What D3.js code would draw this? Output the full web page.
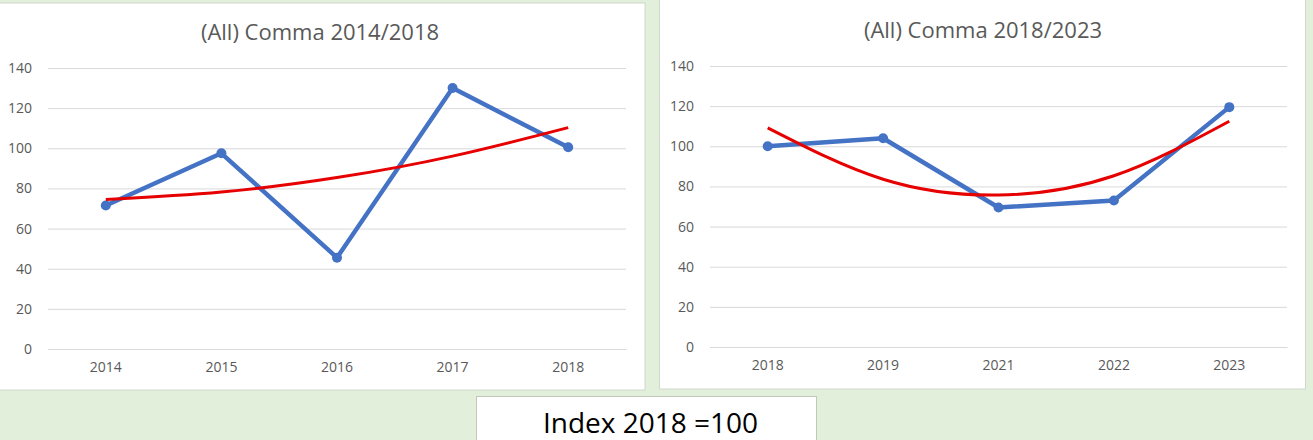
<!DOCTYPE html>
<html>
<head>
<meta charset="utf-8">
<script src="https://cdn.jsdelivr.net/npm/d3@7"></script>
<style>
  html, body { margin: 0; padding: 0; background: #e2efda; }
  svg { display: block; font-family: "Open Sans", "Noto Sans", sans-serif; }
</style>
</head>
<body>
<svg id="chart" width="1313" height="440"></svg>
<script>
// ---- data ----
const leftTitle = "(All) Comma 2014/2018";
const leftCategories = ["2014", "2015", "2016", "2017", "2018"];
const leftValues = [71.5, 97.5, 45.5, 130, 100.5];
const leftTrend = [74.5, 78.2, 85.4, 96.1, 110.3];

const rightTitle = "(All) Comma 2018/2023";
const rightCategories = ["2018", "2019", "2021", "2022", "2023"];
const rightValues = [100, 104, 69.5, 73, 119.5];
const rightTrend = [109.2, 83.6, 75.7, 85.3, 112.5];

const yTicks = [0, 20, 40, 60, 80, 100, 120, 140];
const footnote = "Index 2018 =100";

const svg = d3.select("#chart");

function drawPanel(cfg) {
  const g = svg.append("g");
  g.append("rect")
    .attr("x", cfg.px).attr("y", cfg.py)
    .attr("width", cfg.pw).attr("height", cfg.ph)
    .attr("fill", "#ffffff").attr("stroke", "#d0d8cc").attr("stroke-width", 1);

  g.append("text")
    .attr("x", cfg.titleX).attr("y", cfg.titleY)
    .attr("text-anchor", "middle").attr("dominant-baseline", "central")
    .attr("font-size", "22px").attr("fill", "#595959")
    .text(cfg.title);

  const x = d3.scaleBand().domain(cfg.categories).range([cfg.x0, cfg.x1]);
  const y = d3.scaleLinear().domain([0, 140]).range([cfg.yBottom, cfg.yTop]);

  // gridlines
  const yAxis = d3.axisLeft(y).tickValues(yTicks).tickSize(-(cfg.x1 - cfg.x0)).tickPadding(16);
  const ga = g.append("g").attr("transform", `translate(${cfg.x0},0)`).call(yAxis);
  ga.select(".domain").remove();
  ga.selectAll(".tick line").attr("stroke", "#d9d9d9").attr("stroke-width", 1);
  ga.selectAll(".tick text").attr("fill", "#595959").attr("font-size", "14px")
    .attr("font-family", "'Open Sans', sans-serif");

  const xAxis = d3.axisBottom(x).tickSize(0).tickPadding(cfg.xLabelPad);
  const gx = g.append("g").attr("transform", `translate(0,${cfg.yBottom})`).call(xAxis);
  gx.select(".domain").attr("stroke", "#d9d9d9");
  gx.selectAll(".tick text").attr("fill", "#595959").attr("font-size", "14px")
    .attr("font-family", "'Open Sans', sans-serif");

  const cx = (d, i) => x(cfg.categories[i]) + x.bandwidth() / 2;

  const line = d3.line().x((d, i) => cx(d, i)).y(d => y(d));
  g.append("path").datum(cfg.values)
    .attr("d", line).attr("fill", "none")
    .attr("stroke", "#4472c4").attr("stroke-width", 4.4)
    .attr("stroke-linejoin", "round").attr("stroke-linecap", "round");

  g.selectAll(".pt").data(cfg.values).enter().append("circle")
    .attr("cx", (d, i) => cx(d, i)).attr("cy", d => y(d)).attr("r", 5)
    .attr("fill", "#4472c4");

  const trend = d3.line().x((d, i) => cx(d, i)).y(d => y(d)).curve(d3.curveNatural);
  g.append("path").datum(cfg.trend)
    .attr("d", trend).attr("fill", "none")
    .attr("stroke", "#e60000").attr("stroke-width", 3);
}

drawPanel({
  px: -1, py: 3, pw: 646, ph: 387,
  title: leftTitle, titleX: 320, titleY: 31,
  categories: leftCategories, values: leftValues, trend: leftTrend,
  x0: 48, x1: 626, yTop: 68, yBottom: 349, xLabelPad: 13
});

drawPanel({
  px: 659.5, py: -1, pw: 646, ph: 390,
  title: rightTitle, titleX: 983, titleY: 29,
  categories: rightCategories, values: rightValues, trend: rightTrend,
  x0: 710, x1: 1287, yTop: 66, yBottom: 347, xLabelPad: 13
});

// footnote box
svg.append("rect")
  .attr("x", 476.5).attr("y", 396.5).attr("width", 340).attr("height", 50)
  .attr("fill", "#ffffff").attr("stroke", "#bfc8bb").attr("stroke-width", 1);
svg.append("text")
  .attr("x", 650.5).attr("y", 433)
  .attr("text-anchor", "middle")
  .attr("font-size", "28px").attr("fill", "#000000")
  .attr("font-family", "'Open Sans', sans-serif")
  .text(footnote);
</script>
</body>
</html>
